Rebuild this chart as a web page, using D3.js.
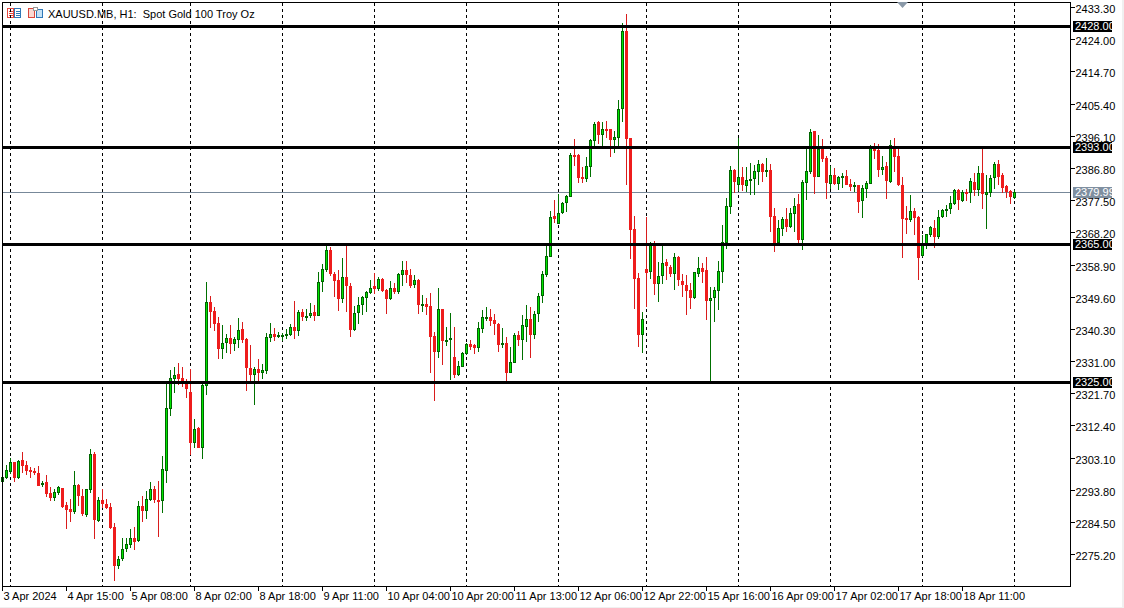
<!DOCTYPE html>
<html>
<head>
<meta charset="utf-8">
<script src="https://cdn.jsdelivr.net/npm/d3@7"></script>
<style>
    html, body { margin: 0; padding: 0; background: #fff; overflow: hidden; }
    svg { display: block; }
    text { font-family: "Liberation Sans Narrow", "Liberation Sans", sans-serif; font-size: 11px; fill: #000; }
    .axis path, .axis line { stroke: #000; shape-rendering: crispEdges; }
    .axis path { stroke-width: 1; }
</style>
</head>
<body>
<div id="chart"></div>
<script>
// one candle per hour
const opens = [
    2296.3,2297.4,2299.1,2302.0,2297.4,2302.6,2301.0,2299.6,2299.4,2298.8,
    2295.2,2296.2,2293.0,2291.7,2293.1,2294.5,2289.6,2288.4,2287.6,2295.4,
    2292.2,2286.7,2294.0,2304.3,2284.9,2291.0,2289.9,2289.0,2283.2,2271.8,
    2273.9,2276.7,2278.1,2280.1,2279.0,2289.3,2287.9,2291.0,2294.2,2291.0,
    2290.8,2299.5,2317.4,2326.0,2327.4,2326.3,2325.1,2322.2,2307.5,2311.8,
    2306.0,2324.0,2348.1,2345.5,2342.0,2334.6,2336.4,2337.7,2336.2,2337.3,
    2340.3,2337.4,2329.0,2327.2,2328.8,2327.7,2328.4,2337.9,2338.9,2338.1,
    2338.3,2338.4,2338.7,2340.9,2339.9,2345.2,2344.0,2344.3,2345.2,2344.3,
    2353.9,2357.6,2363.2,2356.3,2354.5,2349.2,2355.4,2352.8,2340.1,2344.9,
    2347.2,2349.5,2350.8,2352.8,2352.1,2354.8,2351.7,2349.1,2352.2,2351.1,
    2356.1,2357.4,2355.9,2353.1,2354.6,2347.4,2347.7,2347.0,2338.3,2333.9,
    2346.1,2337.1,2337.1,2332.4,2327.2,2329.5,2333.2,2336.1,2335.7,2335.0,
    2340.5,2343.7,2343.8,2343.0,2341.9,2335.9,2336.4,2327.8,2330.7,2338.7,
    2337.1,2341.1,2343.2,2338.8,2344.6,2349.9,2356.1,2361.3,2373.1,2370.8,
    2373.8,2376.9,2378.7,2390.6,2390.6,2384.2,2383.9,2387.3,2394.8,2400.2,
    2396.6,2398.1,2398.1,2395.1,2395.7,2404.1,2426.5,2395.5,2369.2,2355.1,
    2338.8,2357.7,2357.0,2364.4,2353.3,2355.6,2359.8,2358.4,2356.4,2361.2,
    2354.2,2353.1,2351.6,2349.4,2356.4,2358.1,2357.4,2348.6,2349.5,2351.5,
    2357.0,2365.3,2375.8,2386.4,2382.1,2384.3,2381.8,2383.3,2383.7,2385.9,
    2388.1,2385.8,2386.3,2373.0,2365.3,2369.4,2372.1,2370.0,2373.6,2376.5,
    2366.1,2382.7,2385.9,2397.6,2384.4,2392.4,2389.8,2382.3,2384.8,2382.3,
    2384.1,2384.6,2382.2,2381.5,2382.0,2377.5,2380.9,2382.4,2392.5,2392.0,
    2386.4,2387.4,2382.9,2392.6,2390.3,2381.9,2372.5,2371.9,2374.5,2372.9,
    2361.5,2364.4,2367.6,2369.6,2367.0,2372.8,2374.6,2375.1,2376.5,2380.6,
    2377.4,2379.9,2379.6,2382.8,2380.5,2385.5,2379.2,2379.8,2384.0,2388.1,
    2384.9,2381.7,2380.3,2378.2
];
const closes = [
    2297.6,2299.7,2301.9,2297.4,2302.3,2300.8,2299.5,2299.2,2298.9,2295.1,
    2295.9,2292.7,2291.7,2293.3,2294.8,2289.0,2288.2,2287.6,2295.4,2292.0,
    2286.8,2294.2,2304.3,2285.1,2291.0,2289.7,2288.7,2282.9,2271.8,2274.0,
    2276.9,2278.3,2280.1,2278.9,2289.3,2287.8,2291.3,2294.2,2290.9,2290.9,
    2300.0,2317.5,2326.3,2327.1,2326.0,2325.3,2323.1,2307.5,2311.5,2306.0,
    2324.2,2348.1,2345.4,2341.9,2334.5,2336.3,2337.7,2336.2,2337.4,2340.0,
    2337.3,2329.0,2327.2,2328.8,2327.7,2328.5,2338.0,2338.9,2338.2,2338.8,
    2338.6,2338.9,2340.9,2339.9,2345.2,2343.9,2344.1,2344.9,2344.3,2353.9,
    2357.7,2363.2,2356.4,2354.4,2349.2,2355.4,2352.8,2340.2,2344.9,2347.3,
    2349.6,2351.0,2352.2,2352.1,2354.8,2351.5,2349.2,2352.2,2351.1,2356.3,
    2357.4,2356.1,2352.9,2354.5,2347.4,2347.7,2346.9,2338.2,2333.9,2346.1,
    2336.8,2337.3,2337.7,2327.1,2329.7,2333.4,2336.0,2335.3,2335.0,2340.6,
    2343.8,2343.8,2342.8,2341.9,2335.8,2336.3,2327.8,2330.8,2338.7,2337.1,
    2341.5,2343.2,2338.8,2344.8,2350.0,2356.3,2361.5,2372.7,2372.3,2373.8,
    2376.7,2378.8,2390.6,2390.2,2384.1,2384.1,2387.4,2394.9,2399.8,2396.6,
    2398.1,2398.0,2395.1,2395.8,2403.9,2426.5,2395.3,2369.0,2355.0,2338.8,
    2343.2,2356.7,2364.6,2353.3,2355.7,2359.5,2358.5,2356.4,2361.2,2354.7,
    2353.0,2351.5,2349.5,2356.8,2358.0,2357.0,2348.6,2349.3,2351.6,2357.1,
    2365.5,2375.9,2386.4,2382.9,2384.3,2381.9,2383.5,2383.8,2386.1,2388.1,
    2385.9,2386.4,2372.9,2365.2,2369.5,2372.1,2370.0,2373.8,2376.1,2366.1,
    2382.8,2386.0,2397.3,2384.4,2392.4,2389.5,2382.7,2384.8,2382.3,2384.2,
    2384.5,2382.1,2381.5,2382.0,2377.1,2381.1,2382.5,2392.6,2391.9,2386.4,
    2387.1,2383.3,2393.5,2390.2,2382.0,2372.3,2371.9,2374.5,2372.5,2360.9,
    2364.6,2367.9,2369.9,2367.0,2372.9,2374.7,2375.1,2376.8,2380.6,2377.7,
    2379.9,2379.6,2383.1,2380.5,2385.5,2379.4,2379.9,2384.0,2388.1,2384.3,
    2381.2,2379.9,2378.7,2379.99
];
const highs = [
    2297.8,2301.0,2303.0,2302.1,2302.6,2304.9,2302.3,2300.4,2300.2,2300.7,
    2296.6,2298.2,2294.7,2294.1,2295.1,2294.5,2290.3,2291.3,2299.4,2295.6,
    2294.1,2294.2,2305.8,2304.9,2291.9,2294.1,2291.2,2290.1,2284.3,2274.7,
    2280.0,2280.0,2282.6,2283.3,2290.7,2292.0,2293.5,2296.2,2295.1,2296.5,
    2303.6,2324.8,2328.6,2329.4,2330.5,2329.5,2325.9,2328.8,2314.3,2312.1,
    2325.1,2354.1,2350.0,2346.9,2343.8,2341.6,2338.9,2341.6,2338.0,2343.5,
    2342.3,2337.9,2335.7,2329.3,2331.6,2330.2,2339.2,2342.0,2340.7,2339.5,
    2339.2,2340.4,2341.9,2348.5,2345.9,2346.2,2346.2,2347.8,2347.3,2356.9,
    2359.2,2364.5,2364.0,2356.9,2357.5,2360.9,2364.5,2353.6,2347.0,2349.6,
    2350.0,2351.5,2354.5,2356.7,2355.4,2355.2,2351.9,2354.3,2353.6,2356.7,
    2360.0,2360.0,2357.8,2356.0,2354.8,2350.2,2349.3,2350.8,2339.5,2352.2,
    2346.2,2340.9,2345.1,2340.9,2331.2,2333.7,2336.3,2337.3,2336.0,2342.5,
    2345.9,2346.8,2346.2,2344.8,2342.1,2340.6,2338.0,2335.2,2339.2,2339.9,
    2344.5,2347.3,2346.9,2345.6,2350.8,2357.1,2364.9,2374.4,2377.7,2379.4,
    2377.2,2379.2,2391.3,2395.3,2390.9,2387.3,2390.1,2395.2,2400.1,2400.5,
    2400.3,2400.5,2398.1,2397.7,2406.6,2428.9,2431.5,2395.6,2373.1,2356.5,
    2345.3,2372.8,2365.6,2365.9,2359.7,2364.5,2360.7,2358.9,2362.4,2361.5,
    2356.3,2356.1,2353.7,2357.0,2361.2,2359.4,2361.2,2352.5,2352.5,2360.1,
    2370.5,2378.3,2387.6,2386.6,2395.6,2387.1,2387.3,2388.5,2387.8,2389.3,
    2388.5,2389.7,2388.1,2375.3,2371.9,2372.9,2375.3,2375.3,2378.2,2379.4,
    2383.4,2392.3,2398.2,2397.6,2396.5,2395.3,2390.4,2387.4,2386.8,2384.6,
    2385.4,2386.4,2383.7,2382.9,2382.0,2382.0,2383.2,2393.5,2394.1,2393.9,
    2390.3,2388.6,2394.9,2395.6,2392.9,2384.3,2376.0,2379.1,2375.3,2373.2,
    2367.7,2367.9,2370.2,2371.9,2374.9,2375.1,2376.3,2378.8,2380.9,2380.9,
    2380.6,2380.9,2384.1,2385.4,2387.5,2392.4,2384.9,2384.9,2388.7,2389.3,
    2385.4,2382.0,2380.6,2380.6
];
const lows = [
    2296.1,2297.1,2298.5,2296.2,2297.1,2298.7,2298.2,2297.4,2298.2,2294.9,
    2294.7,2291.9,2290.8,2290.7,2292.5,2288.7,2282.7,2284.7,2287.0,2289.2,
    2286.5,2286.2,2292.9,2279.8,2284.7,2288.6,2288.4,2282.7,2267.7,2270.9,
    2273.4,2275.9,2277.2,2276.6,2278.9,2284.7,2285.4,2290.6,2290.1,2280.3,
    2287.1,2295.8,2315.4,2321.9,2324.2,2323.5,2320.5,2304.0,2306.0,2306.0,
    2302.9,2321.4,2340.8,2339.8,2331.8,2331.6,2333.6,2333.2,2334.0,2335.0,
    2336.3,2322.5,2325.2,2318.5,2325.4,2326.0,2327.4,2336.7,2337.0,2337.7,
    2336.8,2337.6,2338.4,2337.5,2338.4,2342.8,2342.6,2343.6,2342.8,2344.2,
    2351.1,2356.8,2355.7,2349.7,2345.7,2348.0,2345.2,2338.2,2339.9,2341.9,
    2344.5,2345.2,2350.6,2350.4,2351.5,2351.1,2344.6,2348.9,2350.5,2350.6,
    2352.7,2353.8,2352.4,2352.2,2344.8,2345.2,2344.5,2327.8,2319.5,2332.1,
    2330.1,2335.5,2325.7,2326.1,2326.9,2329.5,2332.9,2334.2,2333.2,2333.8,
    2339.3,2342.8,2341.3,2338.7,2333.8,2334.9,2325.5,2327.6,2330.6,2335.5,
    2331.5,2336.7,2332.1,2337.5,2342.5,2348.0,2355.5,2361.2,2371.1,2370.7,
    2373.7,2374.2,2378.6,2387.5,2382.7,2382.7,2383.0,2384.3,2393.1,2393.9,
    2393.3,2395.7,2390.2,2391.4,2393.3,2400.1,2382.1,2360.7,2346.2,2335.2,
    2333.6,2346.9,2354.9,2350.3,2348.3,2353.5,2354.6,2355.5,2351.7,2352.9,
    2349.7,2344.5,2346.2,2349.1,2355.3,2353.6,2343.0,2324.5,2342.5,2346.0,
    2353.7,2363.6,2373.7,2379.8,2380.3,2380.4,2380.1,2379.2,2379.2,2382.0,
    2383.0,2384.4,2368.4,2362.7,2365.2,2367.3,2368.3,2369.5,2368.3,2365.2,
    2363.3,2377.7,2385.2,2379.4,2384.2,2388.6,2378.0,2380.8,2382.0,2380.7,
    2381.1,2382.0,2380.3,2380.0,2373.9,2372.5,2378.2,2382.3,2389.5,2384.4,
    2384.9,2378.0,2382.7,2385.9,2381.8,2361.0,2367.9,2371.4,2367.6,2354.6,
    2361.3,2363.6,2366.9,2363.8,2366.3,2372.4,2372.7,2373.6,2376.2,2374.8,
    2377.1,2377.3,2376.9,2378.8,2378.8,2375.1,2369.3,2378.6,2381.0,2382.0,
    2379.6,2378.2,2376.5,2377.9
];

const priceTicks = [2433.3, 2424, 2414.7, 2405.4, 2396.1, 2386.8, 2377.5, 2368.2, 2358.9, 2349.6,
    2340.3, 2331, 2321.7, 2312.4, 2303.1, 2293.8, 2284.5, 2275.2];
const timeTickIdx = [0, 16, 32, 48, 64, 80, 96, 112, 128, 144, 160, 176, 192, 208, 224, 240];
const timeLabels = ["3 Apr 2024", "4 Apr 15:00", "5 Apr 08:00", "8 Apr 02:00", "8 Apr 18:00", "9 Apr 11:00",
    "10 Apr 04:00", "10 Apr 20:00", "11 Apr 13:00", "12 Apr 06:00", "12 Apr 22:00", "15 Apr 16:00",
    "16 Apr 09:00", "17 Apr 02:00", "17 Apr 18:00", "18 Apr 11:00"];
const periodSeps = [2, 25, 47, 70, 93, 116, 139, 161, 184, 207, 230, 253];
const levels = [2428, 2393, 2365, 2325];
const lastPrice = 2379.99;

const width = 1124, height = 608;
const plotLeft = 2.5, plotRight = 1070.5, plotTop = 2.5, plotBottom = 586.5;

const xScale = d3.scaleLinear().domain([0, 253]).range([2.5, 1014.5]);
const yScale = d3.scaleLinear().domain([2433.3, 2275.2]).range([7.6, 554.6]);
const py = v => Math.round(yScale(v));

const svg = d3.select("#chart").append("svg")
    .attr("width", width)
    .attr("height", height);

// window edge
svg.append("rect").attr("width", width).attr("height", height).attr("fill", "#f0f0f0");
svg.append("rect").attr("width", 1122).attr("height", 607).attr("fill", "#fff");

// header
let icons = svg.append("g").attr("shape-rendering", "crispEdges");
function book(x, color) {
    icons.append("rect").attr("x", x + 0.5).attr("y", 8.5).attr("width", 6).attr("height", 9)
        .attr("fill", "#fff").attr("stroke", color);
    [11, 13, 15].forEach(function (y) {
        icons.append("rect").attr("x", x + 2).attr("y", y).attr("width", 4).attr("height", 1).attr("fill", color);
    });
}
book(7, "#e8493f");
book(14, "#2f78b8");
icons.append("rect").attr("x", 28.5).attr("y", 8.5).attr("width", 6).attr("height", 9)
    .attr("fill", "#fbd9d2").attr("stroke", "#d9473c");
icons.append("rect").attr("x", 36.5).attr("y", 9.5).attr("width", 6).attr("height", 8)
    .attr("fill", "#c6e2f5").attr("stroke", "#2f78b8");
icons.append("rect").attr("x", 33).attr("y", 7).attr("width", 4).attr("height", 3)
    .attr("fill", "#fff").attr("stroke", "#999");

svg.append("text").attr("x", 48).attr("y", 17.5).attr("xml:space", "preserve")
    .text("XAUUSD.MB, H1:  Spot Gold 100 Troy Oz");

// day separators
svg.append("g").selectAll("line")
    .data(periodSeps)
    .join("line")
    .attr("x1", d => xScale(d))
    .attr("x2", d => xScale(d))
    .attr("y1", plotTop)
    .attr("y2", plotBottom)
    .attr("stroke", "#000")
    .attr("stroke-dasharray", "3,3")
    .attr("shape-rendering", "crispEdges");

// current price line
svg.append("line")
    .attr("x1", plotLeft).attr("x2", plotRight)
    .attr("y1", Math.floor(yScale(lastPrice)) + 0.5).attr("y2", Math.floor(yScale(lastPrice)) + 0.5)
    .attr("stroke", "#778899")
    .attr("shape-rendering", "crispEdges");

// candles
const candles = opens.map(function (o, i) {
    return { i: i, o: o, c: closes[i], h: highs[i], l: lows[i] };
});
const isUp = d => d.c > d.o;

let candleG = svg.append("g").attr("shape-rendering", "crispEdges");

candleG.selectAll("line")
    .data(candles)
    .join("line")
    .attr("x1", d => xScale(d.i))
    .attr("x2", d => xScale(d.i))
    .attr("y1", d => py(d.h))
    .attr("y2", d => py(d.l))
    .attr("stroke", d => isUp(d) ? "#007000" : "#d91c1c");

candleG.selectAll("rect")
    .data(candles)
    .join("rect")
    .attr("x", d => xScale(d.i) - 1)
    .attr("width", 2)
    .attr("y", d => py(Math.max(d.o, d.c)) + 0.5)
    .attr("height", d => Math.max(py(Math.min(d.o, d.c)) - py(Math.max(d.o, d.c)) - 1, 1))
    .attr("fill", d => isUp(d) ? "#00e600" : "#ee1c1c")
    .attr("stroke", d => isUp(d) ? "#006400" : "#ee1c1c");

// support and resistance levels
svg.append("g").selectAll("line")
    .data(levels)
    .join("line")
    .attr("x1", plotLeft)
    .attr("x2", plotRight)
    .attr("y1", d => py(d) + 0.5)
    .attr("y2", d => py(d) + 0.5)
    .attr("stroke", "#000")
    .attr("stroke-width", 3)
    .attr("shape-rendering", "crispEdges");

// frame
svg.append("path")
    .attr("d", `M${plotLeft},${plotBottom}V${plotTop}H${plotRight}`)
    .attr("fill", "none")
    .attr("stroke", "#000")
    .attr("shape-rendering", "crispEdges");

// axes
let yAxis = d3.axisRight(yScale)
    .tickValues(priceTicks)
    .tickFormat(d3.format(".2f"))
    .tickSize(4)
    .tickPadding(1)
    .tickSizeOuter(0);

let yAxisG = svg.append("g")
    .attr("class", "axis")
    .attr("transform", `translate(${plotRight},0)`)
    .call(yAxis);
yAxisG.select("path").attr("d", `M0,${plotTop}V${plotBottom}`);
yAxisG.selectAll(".tick").attr("transform", d => `translate(0,${Math.floor(yScale(d)) + 0.5})`);
yAxisG.selectAll(".tick text").attr("dy", "0.5em").attr("font-family", null).attr("font-size", null);
yAxisG.attr("font-family", null).attr("font-size", null);

let xAxis = d3.axisBottom(xScale)
    .tickValues(timeTickIdx)
    .tickFormat((d, i) => timeLabels[i])
    .tickSize(4)
    .tickPadding(2)
    .tickSizeOuter(0);

let xAxisG = svg.append("g")
    .attr("class", "axis")
    .attr("transform", `translate(0,${plotBottom})`)
    .call(xAxis);
xAxisG.select("path").attr("d", `M${plotLeft},0H${plotRight}`);
xAxisG.selectAll(".tick").attr("transform", d => `translate(${xScale(d)},0)`);
xAxisG.selectAll(".tick text").attr("text-anchor", "start").attr("x", 1).attr("y", 6).attr("dy", "0.71em");
xAxisG.attr("font-family", null).attr("font-size", null);

// price tags on the axis
function priceTag(value, fill, yPos) {
    svg.append("rect")
        .attr("x", 1073).attr("y", yPos - 5).attr("width", 39).attr("height", 11)
        .attr("fill", fill);
    svg.append("text")
        .attr("x", 1075).attr("y", yPos + 4)
        .style("fill", "#fff")
        .text(d3.format(".2f")(value));
}
levels.forEach(d => priceTag(d, "#000", py(d)));
priceTag(lastPrice, "#7f8fa0", Math.floor(yScale(lastPrice)));

// scroll marker on top of the chart
svg.append("path")
    .attr("d", "M897,2L908,2L902.5,8Z")
    .attr("fill", "#8a99a8");
</script>
</body>
</html>
